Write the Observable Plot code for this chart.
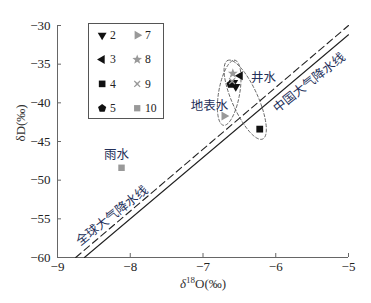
<!DOCTYPE html>
<html>
<head>
<meta charset="utf-8">
<script src="https://cdn.jsdelivr.net/npm/d3@7"></script>
<script src="https://cdn.jsdelivr.net/npm/@observablehq/plot@0.6"></script>
<style>
  body { margin: 0; background: #fff; }
  #wrap { position: relative; width: 371px; height: 303px; }
  #legend { position: absolute; left: 88px; top: 23px; }
  #legend svg { border: 1px solid #555; box-sizing: border-box; display: block; }
</style>
</head>
<body>
<div id="wrap"><div id="chart"></div><div id="legend"></div></div>
<script>
// ---- data ----
const sampleId = ["10", "4", "7", "2", "2", "9", "5", "8", "3"];
const sampleO18 = [-8.12, -6.22, -6.71, -6.55, -6.58, -6.60, -6.62, -6.59, -6.49];
const sampleD = [-48.4, -43.4, -41.7, -37.9, -37.4, -37.2, -37.6, -36.2, -36.5];

const gmwlX = [-8.75, -5];   // 全球大气降水线 endpoints
const gmwlY = [-60, -30];
const cmwlX = [-8.63, -5];   // 中国大气降水线
const cmwlY = [-60, -31.2];

const legendIds = ["2", "3", "4", "5", "7", "8", "9", "10"];

const labelText = ["雨水", "地表水", "井水"];
const labelX = [-8.19, -6.91, -6.17];
const labelY = [-46.8, -40.35, -36.85];

const lineLabelText = ["全球大气降水线", "中国大气降水线"];
const lineLabelX = [-8.25, -5.54];
const lineLabelY = [-54.6, -37.4];

const xTicks = [-9, -8, -7, -6, -5];
const yTicks = [-60, -55, -50, -45, -40, -35, -30];

// ellipse groups (center in data units, semi-axes in px, tilt in deg)
const ellCx = [-6.64, -6.42];
const ellCy = [-38.7, -39.6];
const ellA = [33, 43];
const ellB = [10.5, 13];
const ellTilt = [10, -24];

// ---- layout ----
const W = 371, H = 303, mL = 57, mR = 23, mT = 25, mB = 46;
const kx = (W - mL - mR) / 4, ky = (H - mT - mB) / 30;

// ---- custom symbols ----
const R = s => Math.sqrt(s / Math.PI);
const poly = pts => ({draw(ctx, size) { const r = R(size); pts.forEach(([a, b], i) => i ? ctx.lineTo(a * r, b * r) : ctx.moveTo(a * r, b * r)); ctx.closePath(); }});
const tri = ang => poly([0, 1, 2].map(i => { const t = (ang + i * 120) * Math.PI / 180; return [Math.cos(t) * 1.25, Math.sin(t) * 1.25]; }));
const pent = poly([0, 1, 2, 3, 4].map(i => { const t = (-90 + i * 72) * Math.PI / 180; return [Math.cos(t) * 1.1, Math.sin(t) * 1.1]; }));
const sq = poly([[-0.85, -0.85], [0.85, -0.85], [0.85, 0.85], [-0.85, 0.85]]);
const star = {draw(ctx, size) { const r = R(size) * 1.3, ri = r * 0.42; for (let i = 0; i < 10; i++) { const t = (-90 + i * 36) * Math.PI / 180, rr = i % 2 ? ri : r; i ? ctx.lineTo(Math.cos(t) * rr, Math.sin(t) * rr) : ctx.moveTo(Math.cos(t) * rr, Math.sin(t) * rr); } ctx.closePath(); }};
const xs = {draw(ctx, size) { const r = R(size) * 0.95, w = 0.22;
  const p = [[0,-w*1.4],[1-w,-1],[1,-1+w],[w*1.4,0],[1,1-w],[1-w,1],[0,w*1.4],[-1+w,1],[-1,1-w],[-w*1.4,0],[-1,-1+w],[-1+w,-1]];
  p.forEach(([a,b],i)=> i ? ctx.lineTo(a*r,b*r) : ctx.moveTo(a*r,b*r)); ctx.closePath(); }};

const style = {
  "2": {symbol: tri(90), fill: "#111", r: 4.2},
  "3": {symbol: tri(180), fill: "#111", r: 4.2},
  "4": {symbol: sq, fill: "#111", r: 4},
  "5": {symbol: pent, fill: "#111", r: 4},
  "7": {symbol: tri(0), fill: "#999", r: 4.2},
  "8": {symbol: star, fill: "#999", r: 4},
  "9": {symbol: xs, fill: "#999", r: 3.6},
  "10": {symbol: sq, fill: "#999", r: 3.8}
};

const samples = sampleId.map((id, i) => ({id, x: sampleO18[i], y: sampleD[i]}));

// ellipses as data paths
const ellipses = ellCx.map((cx, j) => {
  const th = ellTilt[j] * Math.PI / 180;
  const ux = Math.sin(th), uy = -Math.cos(th); // major axis (screen)
  const vx = -uy, vy = ux;
  return d3.range(0, 121).map(k => {
    const t = k / 120 * 2 * Math.PI;
    const px = ellA[j] * Math.cos(t) * ux + ellB[j] * Math.sin(t) * vx;
    const py = ellA[j] * Math.cos(t) * uy + ellB[j] * Math.sin(t) * vy;
    return {g: j, x: cx + px / kx, y: ellCy[j] - py / ky};
  });
}).flat();

const lines = gmwlX.map((x, i) => ({x, y: gmwlY[i]}));
const lines2 = cmwlX.map((x, i) => ({x, y: cmwlY[i]}));

const serif = "'Liberation Serif', 'Times New Roman', serif";
const cjk = "'Noto Sans CJK SC', sans-serif";
const txtColor = "#24305a";

const plot = Plot.plot({
  width: W, height: H,
  marginLeft: mL, marginRight: mR, marginTop: mT, marginBottom: mB,
  x: {domain: [-9, -5]},
  y: {domain: [-60, -30]},
  style: {fontFamily: serif, fontSize: "13px", color: "#222", background: "#fff"},
  marks: [
    Plot.axisX({ticks: xTicks, tickSize: -4, tickPadding: 8, label: null, stroke: "#666", tickFormat: d => String(d).replace("-", "−"), fontSize: 13}),
    Plot.axisY({ticks: yTicks, tickSize: -4, tickPadding: 11, label: null, stroke: "#666", tickFormat: d => String(d).replace("-", "−"), fontSize: 13}),
    Plot.ruleX([-9], {stroke: "#666"}),
    Plot.ruleY([-60], {stroke: "#666"}),
    Plot.line(lines, {x: "x", y: "y", stroke: "#222", strokeWidth: 1.1, strokeDasharray: "7,4"}),
    Plot.line(lines2, {x: "x", y: "y", stroke: "#222", strokeWidth: 1.1}),
    Plot.line(ellipses, {x: "x", y: "y", z: "g", stroke: "#555", strokeWidth: 0.9, strokeDasharray: "3,2.2", curve: "linear"}),
    ...Object.keys(style).map(id => Plot.dot(samples.filter(d => d.id === id), {x: "x", y: "y", symbol: style[id].symbol, fill: style[id].fill, r: style[id].r, stroke: "none"})),
    Plot.text(labelText, {x: (d, i) => labelX[i], y: (d, i) => labelY[i], text: d => d, fontFamily: cjk, fontSize: 12.5, fill: txtColor}),
    Plot.text(lineLabelText, {x: (d, i) => lineLabelX[i], y: (d, i) => lineLabelY[i], text: d => d, rotate: -38.5, fontFamily: cjk, fontSize: 12.5, fill: txtColor}),
    Plot.text(["δD(‰)"], {frameAnchor: "left", dx: -37, rotate: -90, fontSize: 13, fill: "#333", className: "ylab"}),
    Plot.text(["δ18O(‰)"], {frameAnchor: "bottom", dy: 30, fontSize: 13, fill: "#333", className: "xlab"})
  ]
});
document.getElementById("chart").append(plot);

// rich-text x label: italic δ, superscript 18
const xl = plot.querySelector("g.xlab text");
if (xl) {
  xl.textContent = "";
  const ns = "http://www.w3.org/2000/svg";
  const a = document.createElementNS(ns, "tspan"); a.textContent = "δ"; a.setAttribute("font-style", "italic");
  const b = document.createElementNS(ns, "tspan"); b.textContent = "18"; b.setAttribute("font-size", "9"); b.setAttribute("dy", "-5");
  const c = document.createElementNS(ns, "tspan"); c.textContent = "O(‰)"; c.setAttribute("dy", "5");
  xl.append(a, b, c);
}

// legend
const legData = legendIds.map((id, i) => ({id, col: Math.floor(i / 4), row: i % 4}));
const leg = Plot.plot({
  width: 76, height: 97, margin: 0,
  x: {type: "point", domain: [0, 1], range: [13, 49], padding: 0, axis: null},
  y: {type: "point", domain: [0, 1, 2, 3], range: [10, 86], padding: 0, axis: null},
  style: {fontFamily: serif, fontSize: "12px", background: "#fff"},
  marks: [
    ...legendIds.map(id => Plot.dot(legData.filter(d => d.id === id), {x: "col", y: "row", symbol: style[id].symbol, fill: style[id].fill, r: style[id].r, stroke: "none"})),
    Plot.text(legData, {x: "col", y: "row", text: "id", dx: 8, textAnchor: "start", fill: "#222", fontSize: 12})
  ]
});
document.getElementById("legend").append(leg);
</script>
</body>
</html>
